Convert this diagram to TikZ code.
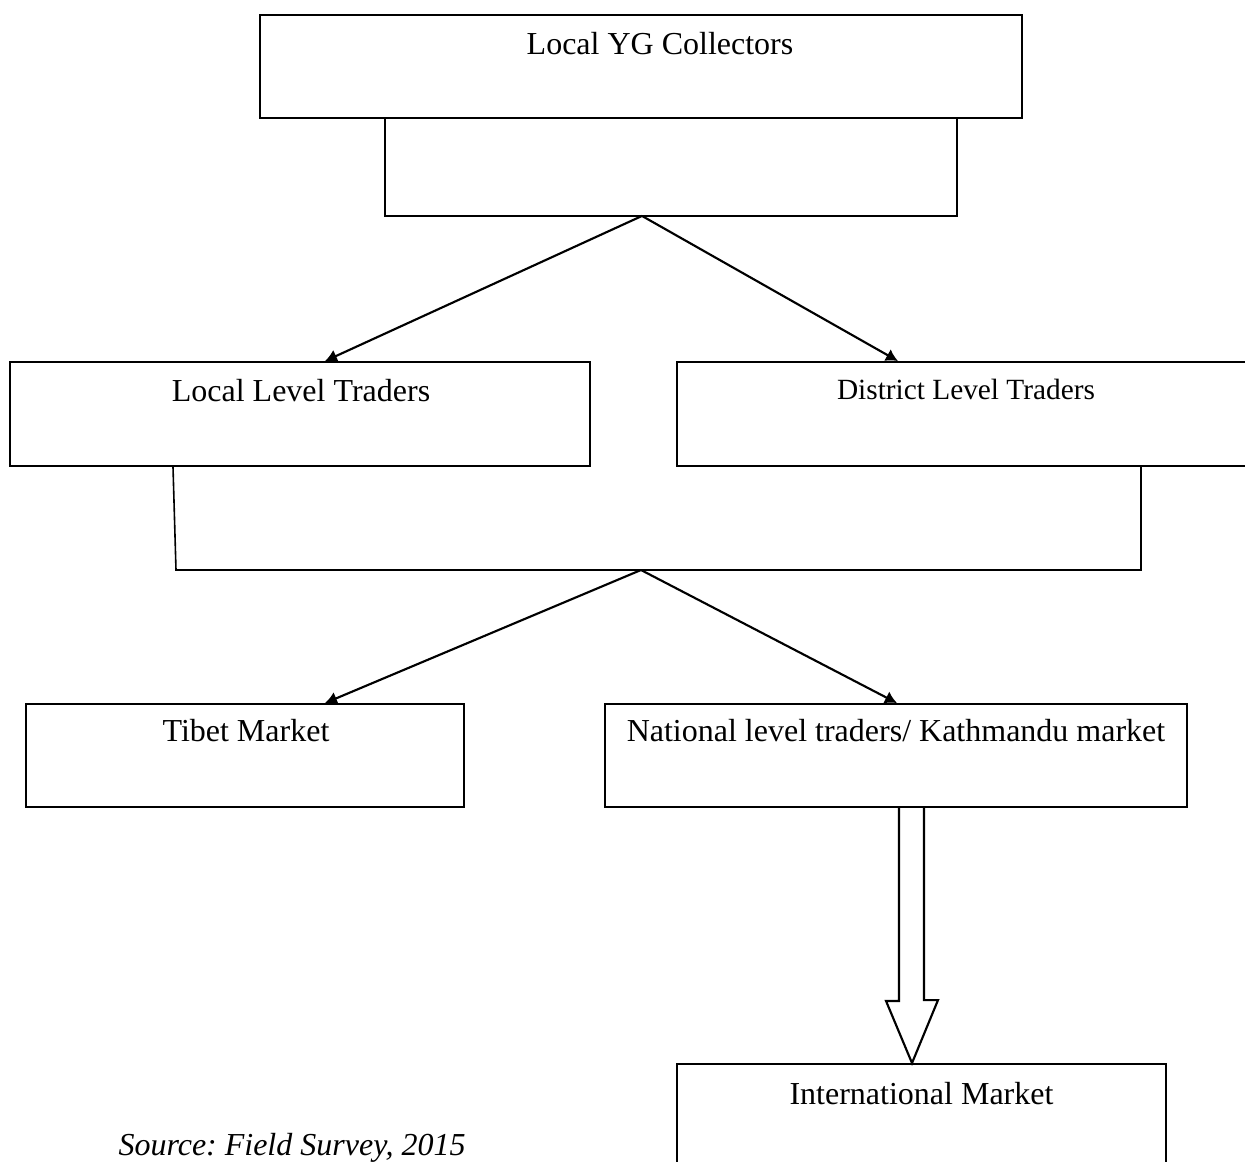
\documentclass[tikz,border=0pt]{standalone}
\usepackage{fontspec}
\setmainfont{Liberation Serif}
\usetikzlibrary{calc, arrows.meta}

\begin{document}
\frenchspacing
\begin{tikzpicture} [
        x=0.375pt, y=-0.375pt,
        font=\fontsize{12}{14}\selectfont,
        box/.style args={#1/#2}{draw, line width=0.7pt, inner sep=0,
            minimum width=#1*0.375pt, minimum height=#2*0.375pt},
        lbl/.style={anchor=base, inner sep=0},
        link/.style={line width=0.8pt, -{Latex[length=4.5pt, width=5pt]}},
        branch/.style={line width=0.6pt}
    ]

    \useasboundingbox (0,0) rectangle (1245,1162);
    \clip (0,0) rectangle (1245,1162);

    % boxes
    \node[box=762/103] (collect) at (641,66.5) {};
    \node[box=580/104] (loc) at (300,414) {};
    \node[box=578/104] (dist) at (966,414) {};
    \node[box=438/103] (tibet) at (245,755.5) {};
    \node[box=582/103] (nat) at (896,755.5) {};
    \node[box=489/111] (intl) at (921.5,1119.5) {};

    % labels
    \node[lbl] (collect-t) at ($(collect.north)+(19,40)$) {Local YG Collectors};
    \node[lbl] (loc-t) at ($(loc.north)+(1,40)$) {Local Level Traders};
    \node[lbl, font=\fontsize{11}{13}\selectfont] (dist-t) at ($(dist.north)+(0,38)$) {District Level Traders};
    \node[lbl] (tibet-t) at ($(tibet.north)+(1,38)$) {Tibet Market};
    \node[lbl] (nat-t) at ($(nat.north)+(0,38)$) {National level traders/ Kathmandu market};
    \node[lbl] (intl-t) at ($(intl.north)+(0,41)$) {International Market};
    \node[lbl, anchor=base west, font=\fontsize{12}{14}\selectfont\itshape] (source) at (118,1155) {Source: Field Survey, 2015};

    % first split
    \coordinate (split-1) at ($(collect.south)+(1,97)$);
    \draw[branch] ($(collect.south)+(-256,0)$) |- ($(collect.south)+(316,97)$) -- ($(collect.south)+(316,0)$);
    \draw[link] (split-1) -- ($(loc.north)+(25,0)$);
    \draw[link] (split-1) -- ($(dist.north)+(-68,0)$);

    % second split
    \coordinate (split-2) at (641,570);
    \draw[branch] ($(loc.south)+(-127,0)$) -- (176,570) -- (1141,570) -- (dist.south -| 1141,0);
    \draw[link] (split-2) -- ($(tibet.north)+(80,0)$);
    \draw[link] (split-2) -- ($(nat.north)+(1,0)$);

    % hollow arrow
    \draw[line width=0.8pt, line join=miter] ($(nat.south)+(3,0)$) -- ++(0,193) -- ++(-13,0)
        -- ($(intl.north)+(-9.5,0)$) -- ++(26,-63) -- ++(-14,0) -- ($(nat.south)+(28,0)$);

\end{tikzpicture}
\end{document}
